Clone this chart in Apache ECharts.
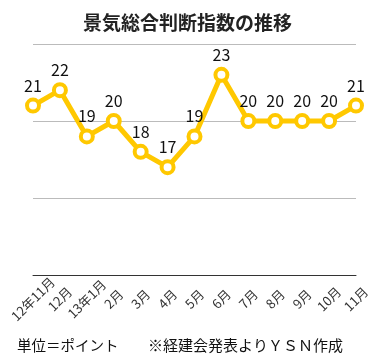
<!DOCTYPE html>
<html><head><meta charset="utf-8">
<script src="https://cdn.jsdelivr.net/npm/echarts@6/dist/echarts.min.js"></script>
<style>html,body{margin:0;padding:0;background:#fff}#c{width:375px;height:361px}</style>
</head><body><div id="c"></div>
<script>
const categories = ['12年11月','12月','13年1月','2月','3月','4月','5月','6月','7月','8月','9月','10月','11月'];
const values = [21, 22, 19, 20, 18, 17, 19, 23, 20, 20, 20, 20, 21];
const titleText = '景気総合判断指数の推移';
const unitNote = '単位＝ポイント';
const sourceNote = '※経建会発表よりＹＳＮ作成';
const FONT = '"Noto Sans CJK JP", "Noto Sans", sans-serif';
const chart = echarts.init(document.getElementById('c'));
chart.setOption({
  animation: false,
  title: { text: titleText, left: 'center', top: 8, textStyle: { fontFamily: FONT, fontSize: 19, fontWeight: 'bold', color: '#222' } },
  grid: { left: 33, right: 19, top: 44, bottom: 86, containLabel: false },
  xAxis: {
    type: 'category', data: categories, boundaryGap: false,
    axisLine: { lineStyle: { color: '#333', width: 1 } },
    axisTick: { show: false },
    axisLabel: { rotate: 45, interval: 0, align: 'center', verticalAlign: 'middle', margin: 24, fontSize: 13, color: '#333', fontFamily: FONT }
  },
  yAxis: {
    type: 'value', min: 10, max: 25, interval: 5,
    axisLabel: { show: false }, axisLine: { show: false }, axisTick: { show: false },
    splitLine: { lineStyle: { color: '#bbb', width: 1 } }
  },
  series: [{
    type: 'line', data: values,
    lineStyle: { color: '#FFC800', width: 5 },
    symbol: 'circle', symbolSize: 12,
    itemStyle: { color: '#fff', borderColor: '#FFC800', borderWidth: 4 },
    label: { show: true, position: 'top', distance: 4, fontSize: 16, color: '#111', fontFamily: FONT }
  }],
  graphic: [
    { type: 'text', left: 17, top: 338, style: { text: unitNote, fontSize: 14.5, fill: '#111', fontFamily: FONT } },
    { type: 'text', left: 148, top: 338, style: { text: sourceNote, fontSize: 15, fill: '#111', fontFamily: FONT } }
  ]
});
</script></body></html>
